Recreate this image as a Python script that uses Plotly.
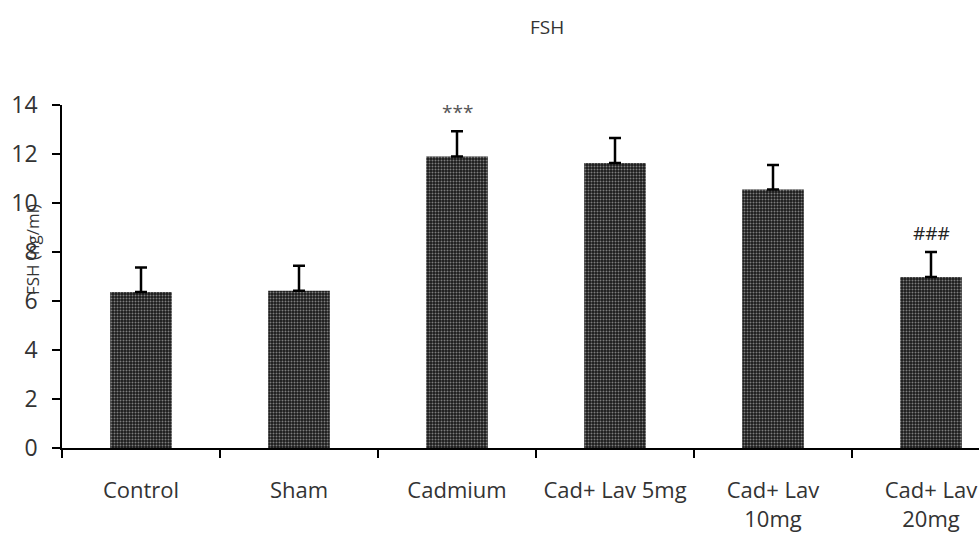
import plotly.graph_objects as go

categories = ["Control", "Sham", "Cadmium", "Cad+ Lav 5mg", "Cad+ Lav<br>10mg", "Cad+ Lav<br>20mg"]
values = [6.37, 6.42, 11.9, 11.63, 10.55, 6.98]
errors = [1.0, 1.02, 1.03, 1.02, 1.0, 1.02]
sig_labels = ["", "", "***", "", "", "###"]
y_ticks = [0, 2, 4, 6, 8, 10, 12, 14]

font_family = "Open Sans, Liberation Sans, sans-serif"

fig = go.Figure()
fig.add_trace(go.Bar(
    x=categories,
    y=values,
    width=0.39,
    marker=dict(
        color="#1a1a1a",
        line=dict(width=0),
        pattern=dict(shape=".", fgcolor="#e0e0e0", size=3, solidity=0.35, fillmode="overlay"),
    ),
    error_y=dict(type="data", symmetric=False, array=errors,
                 arrayminus=[0] * len(errors), color="black", thickness=2.5, width=6),
    showlegend=False,
))

for i, lab in enumerate(sig_labels):
    if lab:
        fig.add_annotation(x=categories[i], y=values[i] + errors[i], text=lab, showarrow=False,
                           yshift=19, xref="x", yref="y", yanchor="middle",
                           font=dict(size=19, color="#555555" if lab == "***" else "#222222",
                                     family=font_family))

fig.add_annotation(text="FSH", x=(547 - 62) / 917, y=1 + (105 - 27) / 343,
                   xref="paper", yref="paper", showarrow=False,
                   xanchor="center", yanchor="middle",
                   font=dict(size=19, color="#333333", family=font_family))
fig.add_annotation(text="FSH (ng/ml)", x=(33 - 62) / 917, y=(448 - 250) / 343,
                   xref="paper", yref="paper", showarrow=False, textangle=-90,
                   xanchor="center", yanchor="middle",
                   font=dict(size=17, color="#333333", family=font_family))

fig.update_layout(
    width=979, height=535,
    margin=dict(l=62, r=0, t=105, b=87, autoexpand=False),
    paper_bgcolor="white", plot_bgcolor="white",
    font=dict(family=font_family, color="#333333"),
)
fig.update_xaxes(
    type="category",
    range=[-0.5, -0.5 + (979 - 62) / 158],
    showline=True, linecolor="black", linewidth=1.5,
    ticks="outside", tickson="boundaries", ticklen=8, tickcolor="black", tickwidth=1.5,
    ticklabelstandoff=22, tickangle=0,
    showgrid=False, zeroline=False,
    tickfont=dict(size=22, color="#333333"),
)
fig.update_yaxes(
    range=[0, 14], tickvals=y_ticks,
    showline=True, linecolor="black", linewidth=1.5,
    ticks="outside", ticklen=8, tickcolor="black", tickwidth=1.5,
    ticklabelstandoff=10,
    showgrid=False, zeroline=False,
    tickfont=dict(size=23, color="#333333"),
)

fig.write_html("out.html", config={"displayModeBar": False},
               post_script="document.body.style.margin='0';document.body.style.padding='0';")
